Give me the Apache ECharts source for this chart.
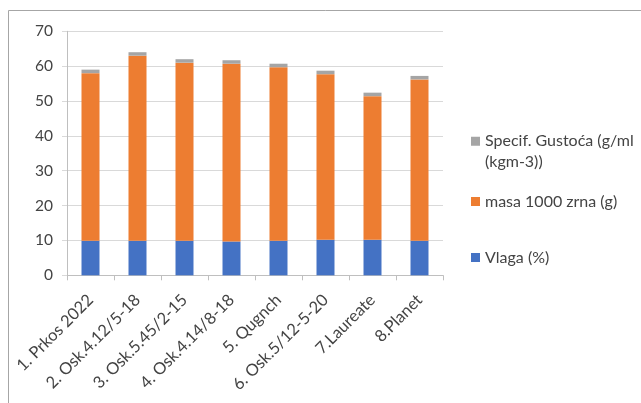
<!DOCTYPE html>
<html>
<head>
<meta charset="utf-8">
<script src="https://cdn.jsdelivr.net/npm/echarts@6/dist/echarts.min.js"></script>
<style>html,body{margin:0;padding:0;background:#fff}#c{width:641px;height:403px}</style>
</head>
<body>
<div id="c"></div>
<script>
var categories = ['1. Prkos 2022', '2. Osk.4.12/5-18', '3. Osk.5.45/2-15', '4. Osk.4.14/8-18', '5. Qugnch', '6. Osk.5/12-5-20', '7.Laureate', '8.Planet'];
var vlaga = [9.9, 9.9, 9.9, 9.7, 9.9, 10.2, 10.2, 9.9];
var masa = [48.1, 53.1, 51.1, 51.0, 49.8, 47.5, 41.2, 46.3];
var gustoca = [1.0, 1.0, 1.0, 1.0, 1.0, 1.0, 1.0, 1.0];
var yTicks = [0, 10, 20, 30, 40, 50, 60, 70];

var FONT = 'Lato';
var TXT = '#444444';
var chart = echarts.init(document.getElementById('c'), null, {renderer: 'canvas'});
function legendItem(name, top, extra) {
  return Object.assign({
    data: [name],
    orient: 'vertical',
    left: 471,
    top: top,
    padding: 0,
    itemWidth: 9,
    itemHeight: 9,
    itemGap: 0,
    icon: 'rect',
    selectedMode: false,
    textStyle: {fontFamily: FONT, fontSize: 16, color: TXT}
  }, extra || {});
}
chart.setOption({
  animation: false,
  color: ['#4472C4', '#ED7D31', '#A5A5A5'],
  graphic: [{
    type: 'rect', silent: true,
    shape: {x: 8.5, y: 10.5, width: 700, height: 500},
    style: {fill: 'none', stroke: '#a6a6a6', lineWidth: 1}
  }],
  legend: [
    legendItem('Specif. Gustoća (g/ml (kgm-3))', 110.5, {
      formatter: function () { return '\nSpecif. Gustoća (g/ml\n(kgm-3))'; },
      textStyle: {fontFamily: FONT, fontSize: 16, color: TXT, lineHeight: 20.5}
    }),
    legendItem('masa 1000 zrna (g)', 193.5),
    legendItem('Vlaga (%)', 249.5)
  ],
  grid: {left: 67, right: 198, top: 31.3, bottom: 127.7, containLabel: false},
  xAxis: {
    type: 'category',
    data: categories,
    axisLine: {lineStyle: {color: '#bfbfbf'}},
    axisTick: {show: true, length: 5, lineStyle: {color: '#bfbfbf'}},
    axisLabel: {rotate: 45, margin: 22, interval: 0, fontFamily: FONT, fontSize: 16.5, color: TXT}
  },
  yAxis: {
    type: 'value',
    min: yTicks[0], max: yTicks[yTicks.length - 1], interval: 10,
    axisLine: {show: true, lineStyle: {color: '#bfbfbf'}},
    axisTick: {show: true, length: 5, lineStyle: {color: '#d9d9d9'}},
    splitLine: {lineStyle: {color: '#d9d9d9'}},
    axisLabel: {margin: 14, fontFamily: FONT, fontSize: 15.5, color: TXT}
  },
  series: [
    {name: 'Vlaga (%)', type: 'bar', stack: 's', data: vlaga, barWidth: 18},
    {name: 'masa 1000 zrna (g)', type: 'bar', stack: 's', data: masa, barWidth: 18},
    {name: 'Specif. Gustoća (g/ml (kgm-3))', type: 'bar', stack: 's', data: gustoca, barWidth: 18}
  ]
});
</script>
</body>
</html>
